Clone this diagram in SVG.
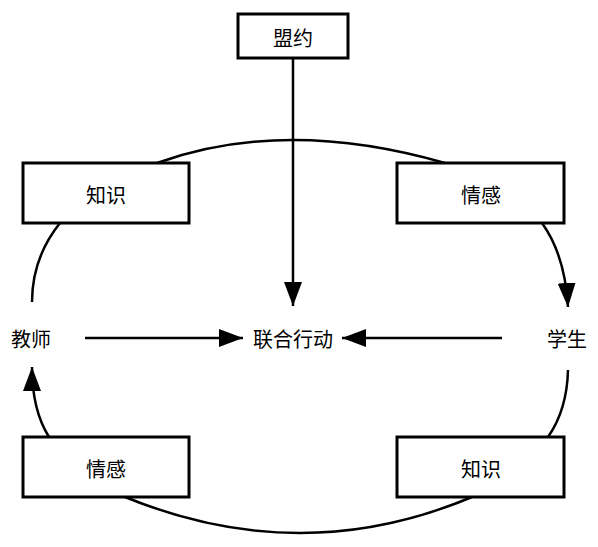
<svg xmlns="http://www.w3.org/2000/svg" width="598" height="547" viewBox="0 0 598 547">
<style>
.box{fill:#fff;stroke:#000;stroke-width:3}
.t{font-family:"Noto Sans CJK SC","Noto Sans",sans-serif;font-size:20px;fill:#000;text-anchor:middle;dominant-baseline:central}
.c{fill:none;stroke:#000;stroke-width:2.5}
</style>
<defs>
<marker id="ah" markerUnits="userSpaceOnUse" markerWidth="26" markerHeight="20" refX="24" refY="9" orient="auto">
<path d="M0,0 L24,9 L0,18 Z" fill="#000"/>
</marker>
</defs>
<g id="connectors">
<path class="c" d="M157,163 Q285,117 445,163"/>
<path class="c" d="M125,497 Q301,569 472,497"/>
<path class="c" d="M60,223 Q32,258 32,302"/>
<path class="c" d="M542,223 Q565,255 568,307" marker-end="url(#ah)"/>
<path class="c" d="M49,437 Q32,410 32,367" marker-end="url(#ah)"/>
<path class="c" d="M568,370 Q567,410 548,437"/>
<path class="c" d="M293,58 L293,306" marker-end="url(#ah)"/>
<path class="c" d="M85,338 L243,338" marker-end="url(#ah)"/>
<path class="c" d="M502,338 L342,338" marker-end="url(#ah)"/>
</g>
<g id="mengyue"><rect class="box" x="238" y="14" width="110" height="44"/><text class="t" x="293" y="37">盟约</text></g>
<g id="zhishi1"><rect class="box" x="23" y="163" width="166" height="60"/><text class="t" x="106" y="194">知识</text></g>
<g id="qinggan1"><rect class="box" x="397" y="163" width="167" height="60"/><text class="t" x="481" y="194">情感</text></g>
<g id="qinggan2"><rect class="box" x="23" y="437" width="166" height="60"/><text class="t" x="106" y="468">情感</text></g>
<g id="zhishi2"><rect class="box" x="397" y="437" width="167" height="60"/><text class="t" x="481" y="468">知识</text></g>
<g id="jiaoshi"><text class="t" x="31" y="338">教师</text></g>
<g id="lianhe"><text class="t" x="293" y="338">联合行动</text></g>
<g id="xuesheng"><text class="t" x="567" y="338">学生</text></g>
</svg>
